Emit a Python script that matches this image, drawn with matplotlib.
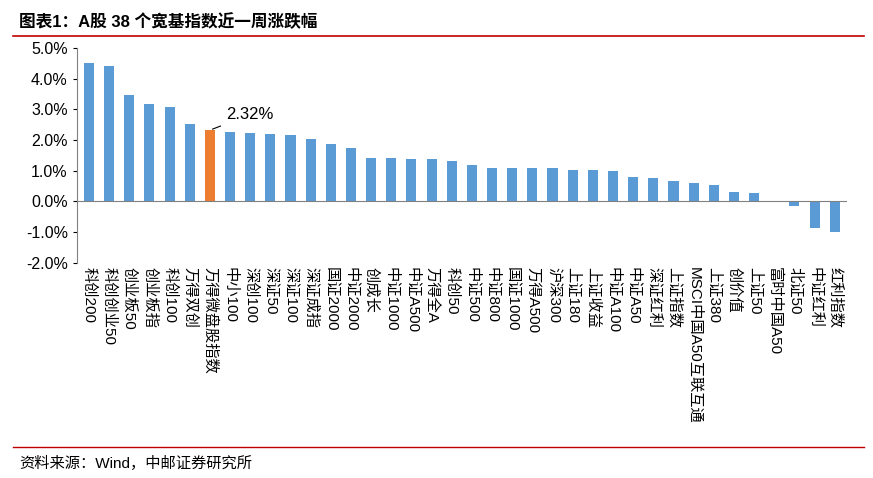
import matplotlib.pyplot as plt
import matplotlib.ticker as mticker
import numpy as np

plt.rcParams['font.family'] = ['Liberation Sans', 'Noto Sans CJK SC', 'DejaVu Sans']

names = ["科创200", "科创创业50", "创业板50", "创业板指", "科创100", "万得双创", "万得微盘股指数",
         "中小100", "深创100", "深证50", "深证100", "深证成指", "国证2000", "中证2000", "创成长",
         "中证1000", "中证A500", "万得全A", "科创50", "中证500", "中证800", "国证1000", "万得A500",
         "沪深300", "上证180", "上证收益", "中证A100", "中证A50", "深证红利", "上证指数",
         "MSCI中国A50互联互通", "上证380", "创价值", "上证50", "富时中国A50", "北证50", "中证红利", "红利指数"]
changes = [4.52, 4.42, 3.48, 3.17, 3.07, 2.52, 2.32, 2.25, 2.22, 2.18, 2.15, 2.03, 1.86, 1.73, 1.42,
           1.40, 1.38, 1.37, 1.30, 1.18, 1.10, 1.10, 1.08, 1.08, 1.03, 1.02, 0.98, 0.80, 0.77, 0.68,
           0.60, 0.55, 0.32, 0.27, 0.03, -0.15, -0.85, -1.00]
highlight = "万得微盘股指数"

fig = plt.figure(figsize=(8.73, 4.78), dpi=100)
ax = fig.add_axes([0.088, 0.45, 0.882, 0.45])

x = np.arange(len(names))
colors = ['#ED7D31' if n == highlight else '#5B9BD5' for n in names]
ax.bar(x, changes, width=0.5, color=colors)
ax.set_xlim(-0.6, len(names) - 0.4)
ax.set_ylim(-2, 5)
ax.yaxis.set_major_locator(mticker.MultipleLocator(1))
ax.yaxis.set_major_formatter(mticker.FuncFormatter(lambda v, p: f"{v:.1f}%"))
ax.tick_params(axis='y', labelsize=11.5, length=3)
ax.tick_params(axis='x', length=0, pad=3)
ax.set_xticks(x)
ax.set_xticklabels(names, rotation=270, fontsize=11, va='top', ha='center')
ax.axhline(0, color='#808080', lw=0.8)
for s in ['top', 'right', 'bottom']:
    ax.spines[s].set_visible(False)
ax.spines['left'].set_color('#808080')

i = names.index(highlight)
ax.annotate(f"{changes[i]:.2f}%", xy=(i, changes[i]), xytext=(i + 0.8, changes[i] + 0.5),
            fontsize=12, va='center', arrowprops=dict(arrowstyle='-', color='black', lw=0.8))

fig.text(0.022, 0.955, "图表1：A股 38 个宽基指数近一周涨跌幅", fontsize=12, fontweight='bold', va='center')
fig.add_artist(plt.Line2D([0.015, 0.99], [0.925, 0.925], color='#C00000', lw=1.2))
fig.add_artist(plt.Line2D([0.015, 0.99], [0.065, 0.065], color='#C00000', lw=1.0))
fig.text(0.022, 0.03, "资料来源：Wind，中邮证券研究所", fontsize=11, va='center')

fig.savefig("out.png", dpi=100)
